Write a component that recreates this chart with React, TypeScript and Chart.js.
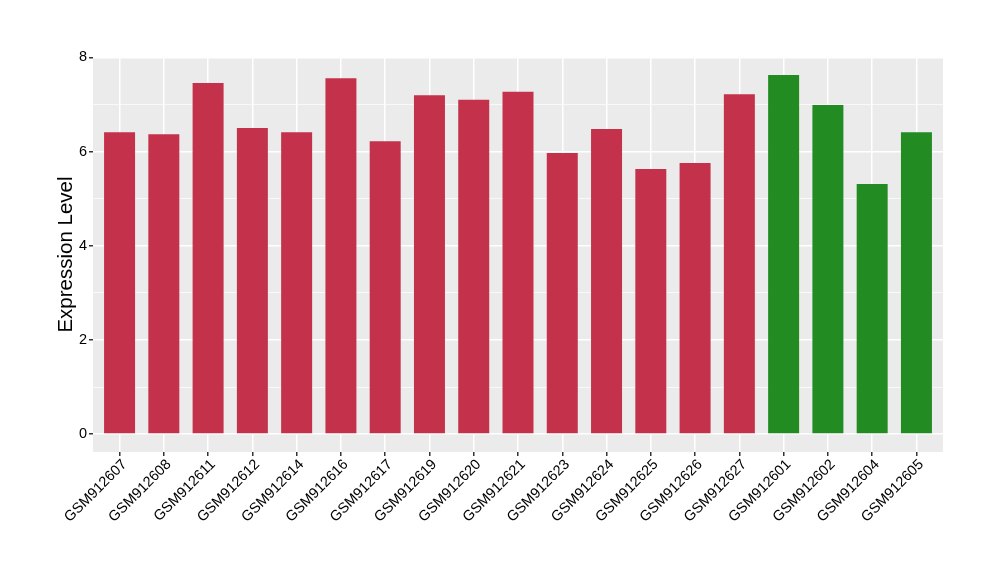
import React, { useEffect, useRef } from "react";
import { Chart, registerables } from "chart.js";

Chart.register(...registerables);

const categories = [
  "GSM912607", "GSM912608", "GSM912611", "GSM912612", "GSM912614", "GSM912616",
  "GSM912617", "GSM912619", "GSM912620", "GSM912621", "GSM912623", "GSM912624",
  "GSM912625", "GSM912626", "GSM912627", "GSM912601", "GSM912602", "GSM912604", "GSM912605",
];
const values = [
  6.41, 6.37, 7.46, 6.50, 6.41, 7.56, 6.22, 7.20, 7.10, 7.27, 5.97, 6.48,
  5.63, 5.76, 7.22, 7.63, 6.99, 5.31, 6.41,
];
const groups = [
  "a", "a", "a", "a", "a", "a", "a", "a", "a", "a", "a", "a", "a", "a", "a",
  "b", "b", "b", "b",
];
const groupColors: Record<string, string> = { a: "#C4314A", b: "#228B22" };
const yTicks = [0, 2, 4, 6, 8];
const yMinorTicks = [1, 3, 5, 7];
const yTitle = "Expression Level";

const FONT = "'Liberation Sans', Arial, Helvetica, sans-serif";

export default function App() {
  const ref = useRef<HTMLCanvasElement>(null);
  useEffect(() => {
    if (!ref.current) return;
    const panelBg = {
      id: "panelBg",
      beforeDraw(chart: any) {
        const { ctx, chartArea: a } = chart;
        ctx.save();
        ctx.fillStyle = "#EBEBEB";
        ctx.fillRect(a.left, a.top, a.right - a.left, a.bottom - a.top);
        ctx.restore();
      },
      afterDraw(chart: any) {
        const { ctx, chartArea: a } = chart;
        ctx.save();
        ctx.translate(66, (a.top + a.bottom) / 2);
        ctx.rotate(-Math.PI / 2);
        ctx.fillStyle = "#000";
        ctx.font = `20.5px ${FONT}`;
        ctx.textAlign = "center";
        ctx.textBaseline = "middle";
        ctx.fillText(yTitle, 0, 0);
        ctx.restore();
      },
    };
    const allY = [...yTicks, ...yMinorTicks].sort((p, q) => p - q);
    const chart = new Chart(ref.current, {
      type: "bar",
      data: {
        datasets: [
          {
            data: values.map((v, i) => ({ x: i, y: v })),
            backgroundColor: groups.map((g) => groupColors[g]),
            barPercentage: 0.7,
            categoryPercentage: 1,
          },
        ],
      },
      options: {
        animation: false,
        responsive: false,
        maintainAspectRatio: false,
        layout: { padding: { top: 57, right: 57, left: 0, bottom: 0 } },
        plugins: { legend: { display: false }, tooltip: { enabled: false } },
        scales: {
          x: {
            type: "linear",
            offset: false,
            min: -0.6,
            max: categories.length - 1 + 0.6,
            afterBuildTicks: (s: any) => {
              s.ticks = categories.map((_, i) => ({ value: i }));
            },
            afterFit: (s: any) => {
              s.height = 128;
            },
            ticks: {
              autoSkip: false,
              maxRotation: 45,
              minRotation: 45,
              padding: 0,
              labelOffset: 5,
              color: "#000",
              font: { family: FONT, size: 14.5 },
              callback: (v: any) => categories[v as number] ?? "",
            },
            grid: {
              color: "#FFFFFF",
              lineWidth: 1.5,
              tickColor: "#333333",
              tickLength: 4,
              offset: false,
            },
            border: { display: false },
          },
          y: {
            type: "linear",
            min: -0.38,
            max: 8.01,
            afterBuildTicks: (s: any) => {
              s.ticks = allY.map((v) => ({ value: v }));
            },
            afterFit: (s: any) => {
              s.width = 93;
            },
            ticks: {
              padding: 2,
              color: "#000",
              font: { family: FONT, size: 14.5 },
              callback: (v: any) => (yTicks.includes(v as number) ? String(v) : ""),
            },
            grid: {
              color: "#FFFFFF",
              lineWidth: (c: any) => (c.tick && yTicks.includes(c.tick.value) ? 1.5 : 0.7),
              tickColor: (c: any) =>
                c.tick && yTicks.includes(c.tick.value) ? "#333333" : "rgba(0,0,0,0)",
              tickLength: 4,
            },
            border: { display: false },
          },
        },
      },
      plugins: [panelBg],
    } as any);
    return () => chart.destroy();
  }, []);
  return (
    <div style={{ position: "absolute", left: 0, top: 0, width: 1000, height: 580, background: "#fff" }}>
      <canvas ref={ref} width={1000} height={580} style={{ width: 1000, height: 580 }} />
    </div>
  );
}
